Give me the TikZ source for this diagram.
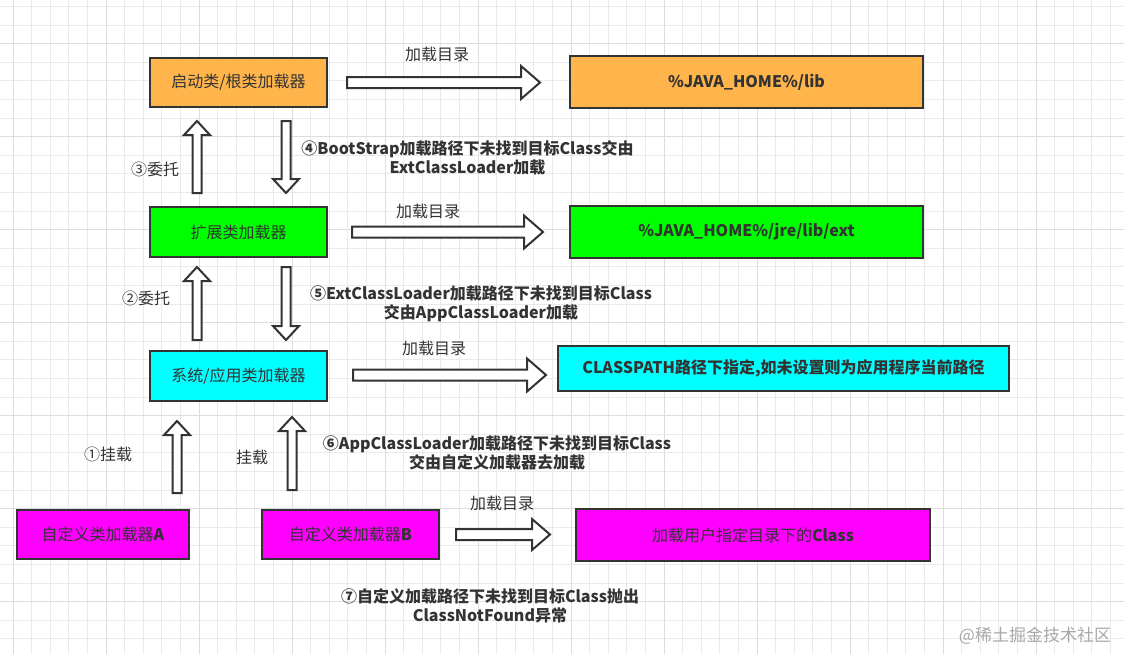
\documentclass[tikz,border=0pt]{standalone}
\usepackage{fontspec}
\setmainfont{Noto Sans CJK SC}
\usetikzlibrary{calc}

\definecolor{rootorange}{HTML}{FFB54C}
\definecolor{extgreen}{HTML}{00FF00}
\definecolor{appcyan}{HTML}{00FFFF}
\definecolor{custmagenta}{HTML}{FF00FF}
\definecolor{edge}{HTML}{333333}
\definecolor{gridgray}{HTML}{EAEAEA}
\definecolor{gridmajor}{HTML}{DDDDDD}
\definecolor{markgray}{HTML}{A8A8A8}

\tikzset{
  loader/.style={draw=edge, line width=2pt, inner sep=0pt, text=edge,
    font=\fontsize{16}{19}\selectfont},
  hollow/.style={draw=edge, fill=white, line width=2pt, line join=miter},
  hint/.style={text=edge, font=\fontsize{16}{19}\selectfont, align=center, inner sep=0pt},
  gridline/.style={draw=gridgray, line width=0.8pt},
}

% hollow block arrow: from, to, half shaft, half head, head length
\newcommand{\fatarrow}[5]{%
  \draw[hollow] let \p1=(#1), \p2=(#2),
      \n1={veclen(\x2-\x1,\y2-\y1)}, \n2={atan2(\y2-\y1,\x2-\x1)} in
    [shift={(\p1)}, rotate=\n2]
    (0,#3) -- ({\n1-#5},#3) -- ({\n1-#5},#4) -- (\n1,0)
    -- ({\n1-#5},-#4) -- ({\n1-#5},-#3) -- (0,-#3) -- cycle;}

\begin{document}
\begin{tikzpicture}[x=1pt,y=-1pt]
  \fill[white] (0,0) rectangle (1124,654);
  \useasboundingbox (0,0) rectangle (1124,654);
  % background grid
  \foreach \k in {0,...,59} \draw[gridline] ({13+18.6*\k},0) -- ({13+18.6*\k},654);
  \foreach \k in {0,...,34} \draw[gridline] (0,{6.4+18.6*\k}) -- (1124,{6.4+18.6*\k});
  \foreach \k in {0,...,11} \draw[gridline, draw=gridmajor] ({13+93*\k},0) -- ({13+93*\k},654);
  \foreach \k in {0,...,6} \draw[gridline, draw=gridmajor] (0,{43.6+93*\k}) -- (1124,{43.6+93*\k});

  % loaders
  \node[loader, fill=rootorange, minimum width=177pt, minimum height=49pt] (boot) at (238.5,82.5) {启动类/根类加载器};
  \node[loader, fill=extgreen, minimum width=177pt, minimum height=50pt] (ext) at (238.5,232) {扩展类加载器};
  \node[loader, fill=appcyan, minimum width=177pt, minimum height=50pt] (app) at (238.5,376) {系统/应用类加载器};
  \node[loader, fill=custmagenta, minimum width=172pt, minimum height=49pt] (custA) at (103,534.5) {自定义类加载器\textbf{A}};
  \node[loader, fill=custmagenta, minimum width=177pt, minimum height=49pt] (custB) at (350.5,534.5) {自定义类加载器\textbf{B}};

  % directories
  \node[loader, fill=rootorange, minimum width=353pt, minimum height=52pt] (bootdir) at (746.5,82) {\textbf{\%JAVA\_HOME\%/lib}};
  \node[loader, fill=extgreen, minimum width=353pt, minimum height=52pt] (extdir) at (746.5,232) {\textbf{\%JAVA\_HOME\%/jre/lib/ext}};
  \node[loader, fill=appcyan, minimum width=451pt, minimum height=45pt] (appdir) at (783.5,368.5) {\textbf{CLASSPATH路径下指定,如未设置则为应用程序当前路径}};
  \node[loader, fill=custmagenta, minimum width=354pt, minimum height=52pt] (userdir) at (753,535) {加载用户指定目录下的\textbf{Class}};

  % load directory arrows
  \fatarrow{$(boot.east)+(19,0)$}{$(boot.east -| bootdir.west)+(-29,0)$}{5.5}{16.5}{19}
  \fatarrow{$(ext.east)+(24,0)$}{$(ext.east -| extdir.west)+(-26,0)$}{5.5}{16.5}{19}
  \fatarrow{$(app.east)+(25,-1)$}{$(app.east -| appdir.west)+(-11,-1)$}{5.5}{16.5}{19}
  \fatarrow{$(custB.east)+(16,0)$}{$(custB.east -| userdir.west)+(-25,0)$}{5.5}{15.5}{18}
  \node[hint] (dir1) at (437,54) {加载目录};
  \node[hint] (dir2) at (428,211) {加载目录};
  \node[hint] (dir3) at (434,348) {加载目录};
  \node[hint] (dir4) at (502,503) {加载目录};

  % delegation arrows
  \fatarrow{$(ext.north west)+(48,-13)$}{$(boot.south west)+(48,13)$}{4.5}{13}{14}
  \fatarrow{$(boot.south east)+(-42,13)$}{$(ext.north east)+(-42,-13)$}{4.5}{13}{14}
  \fatarrow{$(app.north west)+(48,-10)$}{$(ext.south west)+(48,9)$}{4.5}{13}{14}
  \fatarrow{$(ext.south east)+(-42,9)$}{$(app.north east)+(-42,-10)$}{4.5}{13}{14}
  \fatarrow{$(custA.north east)+(-13,-16)$}{$(custA.north east |- app.south)+(-13,19)$}{4.5}{13}{14}
  \fatarrow{$(custB.north west)+(31,-19)$}{$(custB.north west |- app.south)+(31,15)$}{4.5}{13}{14}

  \node[hint] (step3) at (155,169) {③委托};
  \node[hint] (step2) at (146,298) {②委托};
  \node[hint] (step1) at (108,454) {①挂载};
  \node[hint] (mountB) at (252,457) {挂载};
  \node[hint, font=\fontsize{16}{19}\selectfont\bfseries] (step4) at (467.5,157.5) {④BootStrap加载路径下未找到目标Class交由\\ExtClassLoader加载};
  \node[hint, font=\fontsize{16}{19}\selectfont\bfseries] (step5) at (481,303.5) {⑤ExtClassLoader加载路径下未找到目标Class\\交由AppClassLoader加载};
  \node[hint, font=\fontsize{16}{19}\selectfont\bfseries] (step6) at (497,453) {⑥AppClassLoader加载路径下未找到目标Class\\交由自定义加载器去加载};
  \node[hint, font=\fontsize{16}{19}\selectfont\bfseries] (step7) at (490,606) {⑦自定义加载路径下未找到目标Class抛出\\ClassNotFound异常};

  \node[text=markgray, font=\fontsize{17}{20}\selectfont, inner sep=0pt] (mark) at (1035,636) {@稀土掘金技术社区};
\end{tikzpicture}
\end{document}
